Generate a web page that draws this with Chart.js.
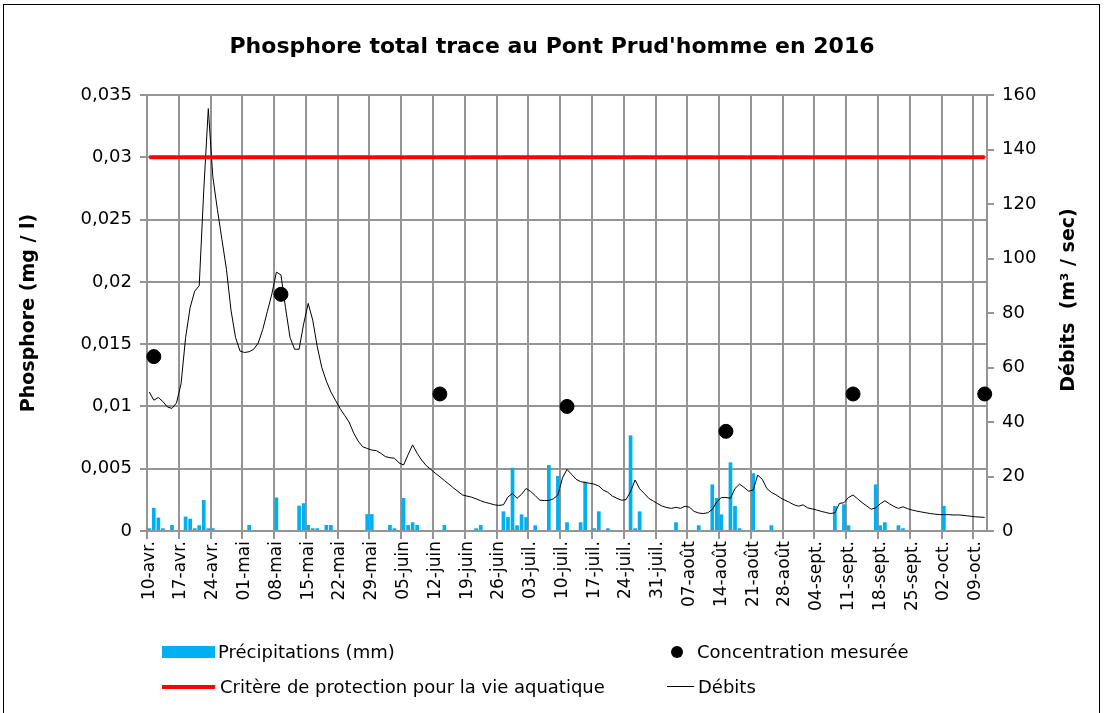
<!DOCTYPE html>
<html lang="fr">
<head>
<meta charset="utf-8">
<script src="https://cdn.jsdelivr.net/npm/chart.js@4.4.0/dist/chart.umd.min.js"></script>
<style>
  html, body { margin: 0; padding: 0; background: #fff; }
  body { width: 1104px; height: 713px; position: relative; overflow: hidden; font-family: "DejaVu Sans", sans-serif; color: #000; }
  #cadre { position: absolute; left: 3px; top: 4px; width: 1097px; height: 730px; border: 1.5px solid #000; box-sizing: border-box; }
  #titre { position: absolute; left: 0; top: 33px; width: 1104px; text-align: center; font-weight: bold; font-size: 22px; line-height: 26px; }
  #titreDroit { position: absolute; left: 967px; top: 288px; width: 200px; text-align: center; font-weight: bold; font-size: 19px; line-height: 24px; white-space: nowrap; transform: rotate(-90deg); }
  #graph { position: absolute; left: 0; top: 0; }
  .txt { position: absolute; font-size: 18px; line-height: 20px; white-space: nowrap; }
  .sym { position: absolute; }
</style>
</head>
<body>
<div id="cadre"></div>
<canvas id="graph" width="1104" height="713"></canvas>
<div id="titre">Phosphore total trace au Pont Prud'homme en 2016</div>
<div id="titreDroit">Débits&nbsp; (m³ / sec)</div>

<div class="sym" style="left:162px; top:646px; width:53px; height:12px; background:#00b0f0;"></div>
<div class="txt" style="left:218px; top:642px;">Précipitations (mm)</div>
<div class="sym" style="left:671px; top:646px; width:12px; height:12px; border-radius:50%; background:#000;"></div>
<div class="txt" style="left:697px; top:642px;">Concentration mesurée</div>
<div class="sym" style="left:162px; top:685px; width:53px; height:4px; background:#ff0000;"></div>
<div class="txt" style="left:220px; top:677px;">Critère de protection pour la vie aquatique</div>
<div class="sym" style="left:667px; top:686px; width:27px; height:1px; background:#000;"></div>
<div class="txt" style="left:698px; top:677px;">Débits</div>

<script>
// une étiquette tous les 7 jours, du 10 avril au 11 octobre 2016 (185 jours)
const nbJours = 185;
const tickLabels = ["10-avr.", "17-avr.", "24-avr.", "01-mai", "08-mai", "15-mai", "22-mai", "29-mai",
    "05-juin", "12-juin", "19-juin", "26-juin", "03-juil.", "10-juil.", "17-juil.", "24-juil.", "31-juil.",
    "07-août", "14-août", "21-août", "28-août", "04-sept.", "11-sept.", "18-sept.", "25-sept.", "02-oct.", "09-oct."];

// débits journaliers (m3/sec), jour 0 = 10 avril
const debits = [
    51, 48, 49, 47.5, 45.5, 45, 47, 54, 71, 82,
    88, 90, 125, 155, 130, 118, 107, 96, 81, 71,
    66, 65.5, 65.8, 66.7, 69, 74, 80.5, 87, 95, 94,
    82, 71, 66.7, 66.7, 76, 83.5, 77.4, 67.6, 60, 55,
    51, 48, 45, 42.5, 40, 36, 33, 30.9, 30.3, 29.7,
    29.5, 28.5, 27.3, 26.9, 26.7, 25, 24.2, 28, 31.6, 28.5,
    26, 24, 22.6, 21.2, 19.9, 18.5, 17.2, 15.8, 14.5, 13.2,
    12.8, 12.4, 11.8, 11.1, 10.5, 10.1, 9.6, 9.4, 9.6, 12.5,
    13.8, 12, 13.5, 15.6, 14.5, 13, 11.3, 11.2, 11.2, 11.8,
    13.2, 19.5, 22.6, 20.8, 19, 18.1, 17.8, 17.5, 17.2, 16.5,
    15, 14.2, 12.8, 12, 11.3, 11.5, 14.5, 18.7, 15.5, 13.8,
    12, 11, 10, 9.1, 8.6, 8.3, 8.7, 8.3, 9.1, 8.7,
    7.2, 6.6, 6.4, 6.7, 7.9, 10.7, 12.3, 12.3, 12, 15.6,
    17.2, 16, 14.6, 15, 20.5, 19, 15.6, 14.2, 13.3, 12.2,
    11.3, 10.5, 9.6, 9.1, 9.6, 8.5, 8.1, 7.7, 7.2, 6.8,
    6.4, 6.7, 10.1, 10.4, 12.3, 13.2, 11.8, 10.4, 9.2, 8,
    8.5, 10, 11.1, 10, 9, 8.3, 8.9, 8.2, 7.7, 7.3,
    7, 6.7, 6.4, 6.2, 6, 6, 6, 5.9, 5.9, 5.8,
    5.6, 5.4, 5.2, 5.1, 5
];

// précipitations (mm) : jour et hauteur
const precipJours = [0, 1, 2, 3, 5, 8, 9, 10, 11, 12, 13, 14, 22, 28, 33, 34, 35, 36, 37, 39, 40,
    48, 49, 53, 54, 56, 57, 58, 59, 65, 72, 73, 78, 79, 80, 81, 82, 83, 85, 88, 90, 92, 95, 96,
    98, 99, 101, 106, 107, 108, 116, 121, 124, 125, 126, 128, 129, 130, 133, 137, 151, 153, 154,
    160, 161, 162, 165, 166, 175];
const precipMm = [1, 8.5, 4.9, 1, 2.2, 5.3, 4.5, 1, 2.1, 11.4, 1, 1, 2.2, 12.3, 9.3, 10.2, 2.2, 1, 1, 2.2, 2.2,
    6.2, 6.2, 2.2, 1, 12.1, 2.2, 3.2, 2.2, 2.2, 1, 2.2, 7.2, 5.1, 23.2, 2.1, 6.1, 5.1, 2.1, 24.2, 20.2, 3.2, 3.2, 18.1,
    1, 7.2, 1, 35.1, 1, 7.2, 3.2, 2.1, 17.1, 12.1, 6.1, 25.2, 9.2, 1, 21.2, 2.1, 9.2, 9.8, 2.1,
    17.1, 2.1, 3.2, 2.1, 1, 9.2];

// concentrations mesurées (mg/l)
const concJours = [1, 29, 64, 92, 127, 155, 184];
const concValeurs = [0.014, 0.019, 0.011, 0.010, 0.008, 0.011, 0.011];

const critere = 0.03;

const jours = [];
for (let i = 0; i < nbJours; i++) jours.push(i);
const precipData = jours.map(() => null);
precipJours.forEach((j, k) => { precipData[j] = precipMm[k]; });
const concData = jours.map(() => null);
concJours.forEach((j, k) => { concData[j] = concValeurs[k]; });
const critereData = jours.map(() => critere);

Chart.defaults.font.family = "'DejaVu Sans', sans-serif";
Chart.defaults.color = "#000";

const gris = "#959595";
const ctx = document.getElementById("graph").getContext("2d");

new Chart(ctx, {
    data: {
        labels: jours,
        datasets: [
            {
                type: "line",
                label: "Concentration mesurée",
                data: concData,
                yAxisID: "y",
                showLine: false,
                pointRadius: 7,
                pointBackgroundColor: "#000",
                pointBorderColor: "#000",
                order: 0
            },
            {
                type: "line",
                label: "Critère de protection pour la vie aquatique",
                data: critereData,
                yAxisID: "y",
                borderColor: "#ff0000",
                borderWidth: 4,
                pointRadius: 0,
                order: 1
            },
            {
                type: "line",
                label: "Débits",
                data: debits,
                yAxisID: "y1",
                borderColor: "#000",
                borderWidth: 1,
                pointRadius: 0,
                tension: 0,
                order: 2
            },
            {
                type: "bar",
                label: "Précipitations (mm)",
                data: precipData,
                yAxisID: "y1",
                backgroundColor: "#00b0f0",
                barPercentage: 1,
                categoryPercentage: 0.82,
                order: 3
            }
        ]
    },
    options: {
        responsive: false,
        animation: false,
        layout: { padding: { top: 95, left: 0, right: 0, bottom: 0 } },
        plugins: { legend: { display: false }, tooltip: { enabled: false } },
        scales: {
            x: {
                type: "category",
                offset: true,
                grid: {
                    offset: true,
                    lineWidth: 2,
                    tickLength: 8,
                    color: c => (c.index % 7 === 0 ? gris : "rgba(0,0,0,0)")
                },
                border: { color: gris, width: 2 },
                ticks: {
                    autoSkip: false,
                    maxRotation: 90,
                    minRotation: 90,
                    padding: 2,
                    font: { size: 17 },
                    callback: (v, i) => (i % 7 === 0 ? tickLabels[i / 7] : "")
                },
                afterFit: s => { s.height = 713 - 531; }
            },
            y: {
                position: "left",
                min: 0,
                max: 0.035,
                ticks: {
                    stepSize: 0.005,
                    padding: 8,
                    font: { size: 18 },
                    callback: v => String(Math.round(v * 1000) / 1000).replace(".", ",")
                },
                grid: { color: gris, lineWidth: 2, tickLength: 7 },
                border: { color: gris, width: 2 },
                title: {
                    display: true,
                    text: "Phosphore (mg / l)",
                    font: { size: 19, weight: "bold" },
                    padding: { top: 18, bottom: 0 }
                },
                afterFit: s => { s.width = 147; }
            },
            y1: {
                position: "right",
                min: 0,
                max: 160,
                ticks: { stepSize: 20, padding: 8, font: { size: 18 } },
                grid: { drawOnChartArea: false, color: gris, lineWidth: 2, tickLength: 7 },
                border: { color: gris, width: 2 },
                afterFit: s => { s.width = 1104 - 987; }
            }
        }
    }
});
</script>
</body>
</html>
